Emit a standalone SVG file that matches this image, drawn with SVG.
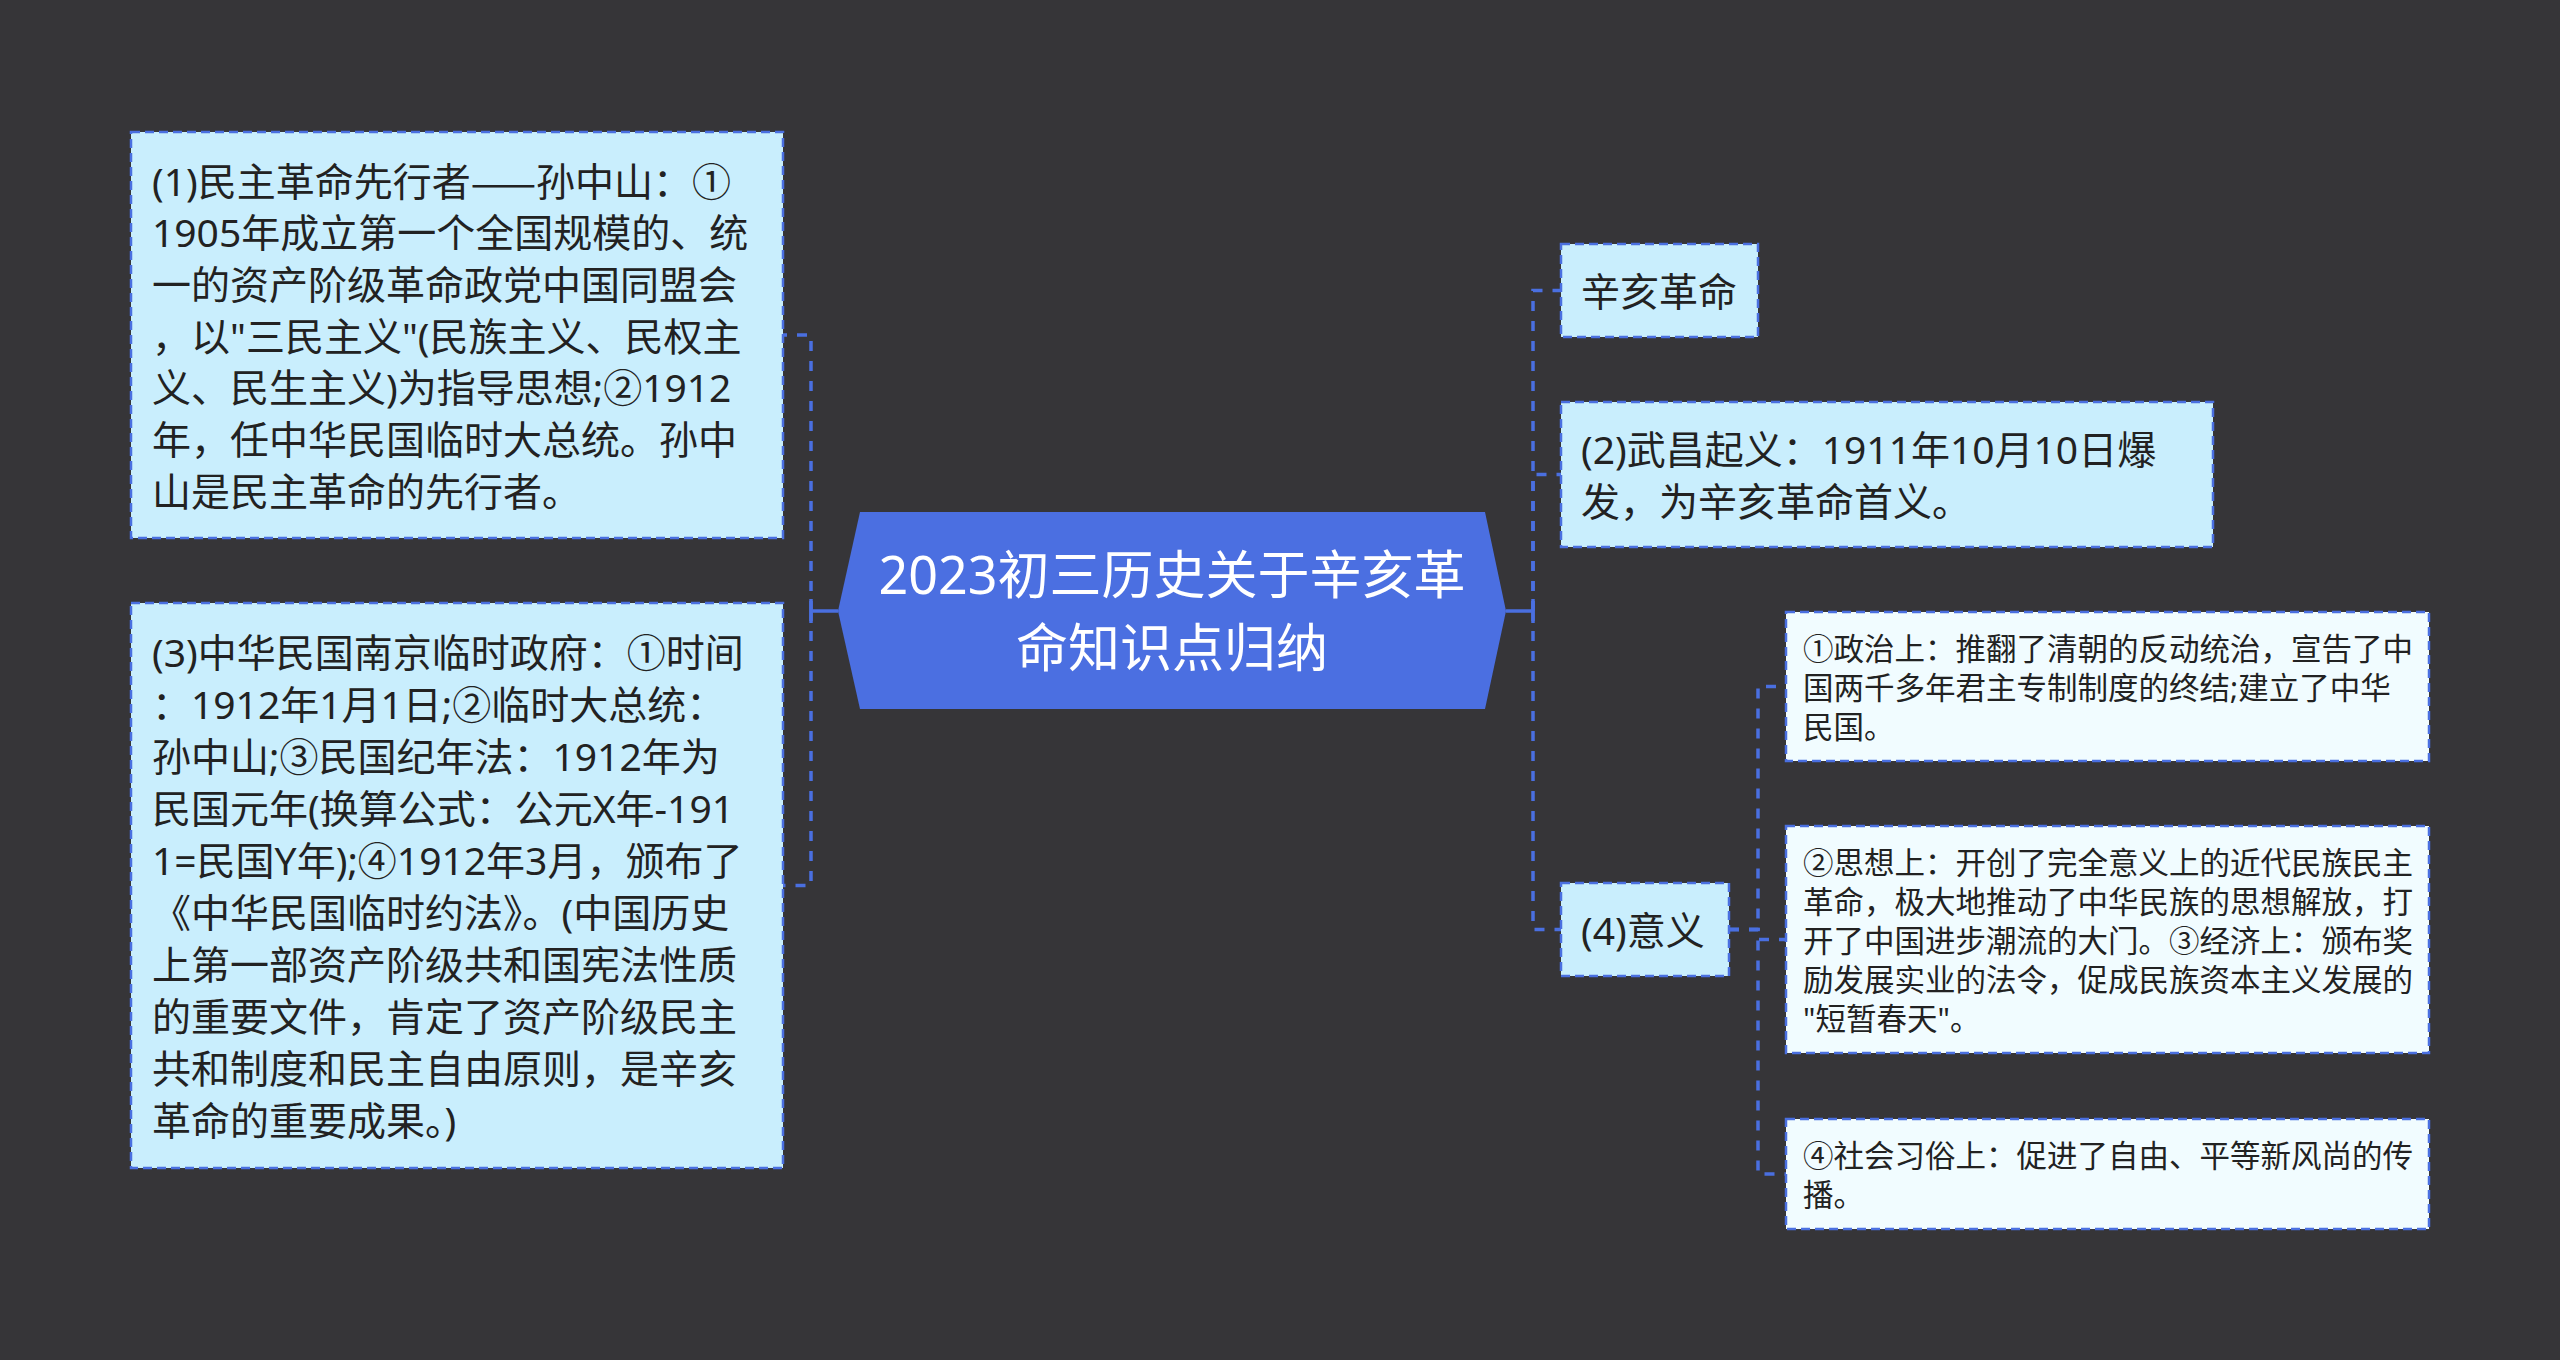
<svg xmlns="http://www.w3.org/2000/svg" width="2560" height="1360" viewBox="0 0 2560 1360">
<style>
  .bg { fill: #363538; }
  .t { font-family: "Noto Sans", "Noto Sans CJK SC", sans-serif; fill: #222222; dominant-baseline: central; }
  .t1 { font-size: 39px; }
  .t2 { font-size: 30.5px; }
  .cjk { font-family: "Noto Sans CJK SC", sans-serif; }
  .tc { font-family: "Noto Sans", "Noto Sans CJK SC", sans-serif; font-size: 52px; fill: #ffffff; text-anchor: middle; dominant-baseline: central; }
  .b1 { fill: #c9eefd; stroke: #4a6fe0; stroke-width: 2.5; stroke-dasharray: 9 5; }
  .b2 { fill: #f1fcff; stroke: #4a6fe0; stroke-width: 2.5; stroke-dasharray: 9 5; }
  .hex { fill: #4b6fe1; }
  .c { fill: none; stroke: #4a6fe0; stroke-width: 3.5; stroke-dasharray: 10 10; }
  .s { fill: none; stroke: #4a6fe0; stroke-width: 3.5; }
</style>
<rect class="bg" x="0" y="0" width="2560" height="1360"/>

<g id="connectors">
  <line class="s" x1="838" y1="611" x2="811" y2="611"/>
  <line class="s" x1="811" y1="599" x2="811" y2="623"/>
  <path class="c" d="M811,611 V335 H783"/>
  <path class="c" d="M811,611 V885.5 H783"/>
  <line class="s" x1="1506" y1="611" x2="1533" y2="611"/>
  <line class="s" x1="1533" y1="599" x2="1533" y2="623"/>
  <path class="c" d="M1533,611 V290.5 H1561"/>
  <path class="c" d="M1533,611 V474.5 H1561"/>
  <path class="c" d="M1533,611 V929.5 H1561"/>
  <path class="c" d="M1729,929.5 H1758 V686.5 H1786"/>
  <path class="c" d="M1729,929.5 H1758 V939.5 H1786"/>
  <path class="c" d="M1729,929.5 H1758 V1174 H1786"/>
</g>

<g id="center">
  <polygon class="hex" points="838,611 860,512 1485,512 1506,611 1485,709 860,709"/>
  <text class="tc" x="1172" y="573.5">2023初三历史关于辛亥革</text>
  <text class="tc" x="1172" y="646.5">命知识点归纳</text>
</g>

<g id="node-1">
  <rect class="b1" x="131" y="132" width="652" height="406"/>
  <text class="t t1" x="152" y="180">(1)民主革命先行者<tspan class="cjk">——</tspan>孙中山：①</text>
  <text class="t t1" x="152" y="231.7">1905年成立第一个全国规模的、统</text>
  <text class="t t1" x="152" y="283.3">一的资产阶级革命政党中国同盟会</text>
  <text class="t t1" x="152" y="335">，以"三民主义"(民族主义、民权主</text>
  <text class="t t1" x="152" y="386.7">义、民生主义)为指导思想;②1912</text>
  <text class="t t1" x="152" y="438.4">年，任中华民国临时大总统。孙中</text>
  <text class="t t1" x="152" y="490">山是民主革命的先行者。</text>
</g>

<g id="node-3">
  <rect class="b1" x="131" y="603" width="652" height="565"/>
  <text class="t t1" x="152" y="651.5">(3)中华民国南京临时政府：①时间</text>
  <text class="t t1" x="152" y="703.5">：1912年1月1日;②临时大总统：</text>
  <text class="t t1" x="152" y="755.5">孙中山;③民国纪年法：1912年为</text>
  <text class="t t1" x="152" y="807.5">民国元年(换算公式：公元X年-191</text>
  <text class="t t1" x="152" y="859.5">1=民国Y年);④1912年3月，颁布了</text>
  <text class="t t1" x="152" y="911.5">《中华民国临时约法》。(中国历史</text>
  <text class="t t1" x="152" y="963.5">上第一部资产阶级共和国宪法性质</text>
  <text class="t t1" x="152" y="1015.5">的重要文件，肯定了资产阶级民主</text>
  <text class="t t1" x="152" y="1067.5">共和制度和民主自由原则，是辛亥</text>
  <text class="t t1" x="152" y="1119.5">革命的重要成果。)</text>
</g>

<g id="node-xhgm">
  <rect class="b1" x="1561" y="244" width="197" height="93"/>
  <text class="t t1" x="1581" y="290.5">辛亥革命</text>
</g>

<g id="node-2">
  <rect class="b1" x="1561" y="402" width="652" height="145"/>
  <text class="t t1" x="1581" y="448.5">(2)武昌起义：1911年10月10日爆</text>
  <text class="t t1" x="1581" y="500.5">发，为辛亥革命首义。</text>
</g>

<g id="node-4">
  <rect class="b1" x="1561" y="883" width="168" height="93"/>
  <text class="t t1" x="1581" y="929.5">(4)意义</text>
</g>

<g id="node-4-1">
  <rect class="b2" x="1786" y="612" width="643" height="149"/>
  <text class="t t2" x="1803" y="647.5">①政治上：推翻了清朝的反动统治，宣告了中</text>
  <text class="t t2" x="1803" y="686.5">国两千多年君主专制制度的终结;建立了中华</text>
  <text class="t t2" x="1803" y="725.5">民国。</text>
</g>

<g id="node-4-2">
  <rect class="b2" x="1786" y="826" width="643" height="227"/>
  <text class="t t2" x="1803" y="861.5">②思想上：开创了完全意义上的近代民族民主</text>
  <text class="t t2" x="1803" y="900.5">革命，极大地推动了中华民族的思想解放，打</text>
  <text class="t t2" x="1803" y="939.5">开了中国进步潮流的大门。③经济上：颁布奖</text>
  <text class="t t2" x="1803" y="978.5">励发展实业的法令，促成民族资本主义发展的</text>
  <text class="t t2" x="1803" y="1017.5">"短暂春天"。</text>
</g>

<g id="node-4-3">
  <rect class="b2" x="1786" y="1119" width="643" height="110"/>
  <text class="t t2" x="1803" y="1154.5">④社会习俗上：促进了自由、平等新风尚的传</text>
  <text class="t t2" x="1803" y="1193.5">播。</text>
</g>
</svg>
